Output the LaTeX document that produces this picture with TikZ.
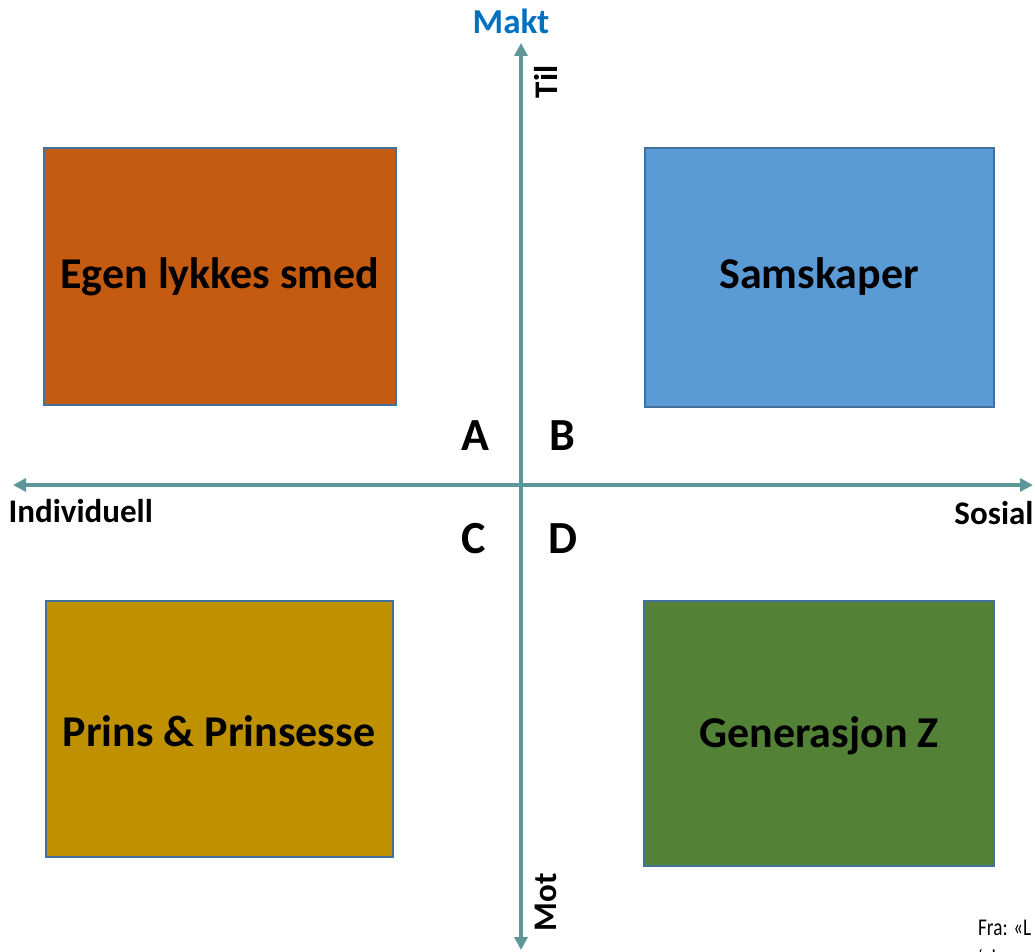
\documentclass[tikz,border=0pt]{standalone}
\usepackage{fontspec}
\setmainfont{Carlito}
\usetikzlibrary{arrows.meta}
\definecolor{axisteal}{RGB}{94,151,154}
\definecolor{boxedge}{RGB}{65,113,156}
\definecolor{orangebox}{RGB}{197,90,17}
\definecolor{bluebox}{RGB}{91,155,213}
\definecolor{goldbox}{RGB}{191,144,0}
\definecolor{greenbox}{RGB}{83,129,53}
\definecolor{maktblue}{RGB}{0,112,192}
\tikzset{
  quad/.style={draw=boxedge, line width=1.2pt, font=\fontsize{44}{50}\selectfont\bfseries},
  axis/.style={draw=axisteal, line width=4pt, {Triangle[length=13pt,width=13pt]}-{Triangle[length=13pt,width=13pt]}},
  letter/.style={font=\fontsize{46}{50}\selectfont\bfseries},
  axlabel/.style={font=\fontsize{33}{36}\selectfont\bfseries}
}
\begin{document}
\begin{tikzpicture}[x=1pt,y=-1pt]
  \useasboundingbox (0,0) rectangle (1035,952);
  \clip (0,0) rectangle (1035,952);

  \filldraw[quad, fill=orangebox] (44,148) rectangle (396,405);
  \filldraw[quad, fill=bluebox] (645,148) rectangle (994,407);
  \filldraw[quad, fill=goldbox] (46,601) rectangle (393,857);
  \filldraw[quad, fill=greenbox] (644,601) rectangle (994,866);

  \node[quad, draw=none] (egen) at (220,277) {Egen lykkes smed};
  \node[quad, draw=none] (sam) at (819,277) {Samskaper};
  \node[quad, draw=none] (prins) at (219,731) {Prins \& Prinsesse};
  \node[quad, draw=none] (gen) at (819,736) {Generasjon Z};

  \coordinate (top) at (521,43);
  \coordinate (bottom) at (521,950);
  \coordinate (left) at (13,485);
  \coordinate (right) at (1033,485);
  \draw[axis] (bottom) -- (top);
  \draw[axis] (left) -- (right);

  \node[font=\fontsize{35}{38}\selectfont\bfseries, text=maktblue] (makt) at (511,21) {Makt};
  \node[axlabel, rotate=90] (til) at (546,82) {Til};
  \node[axlabel, rotate=90] (mot) at (546,902) {Mot};
  \node[axlabel, anchor=west] (indiv) at (5,511) {Individuell};
  \node[axlabel, anchor=east] (sosial) at (1037,513) {Sosial};

  \node[letter] (a) at (475,436) {A};
  \node[letter] (b) at (562,436) {B};
  \node[letter] (c) at (474,539) {C};
  \node[letter] (d) at (563,539) {D};

  \node[anchor=north west, align=left, inner sep=0pt,
        font=\fontsize{24}{31}\selectfont, xscale=0.8] (fra) at (978,920) {Fra: «L\\‘elever};
\end{tikzpicture}
\end{document}
